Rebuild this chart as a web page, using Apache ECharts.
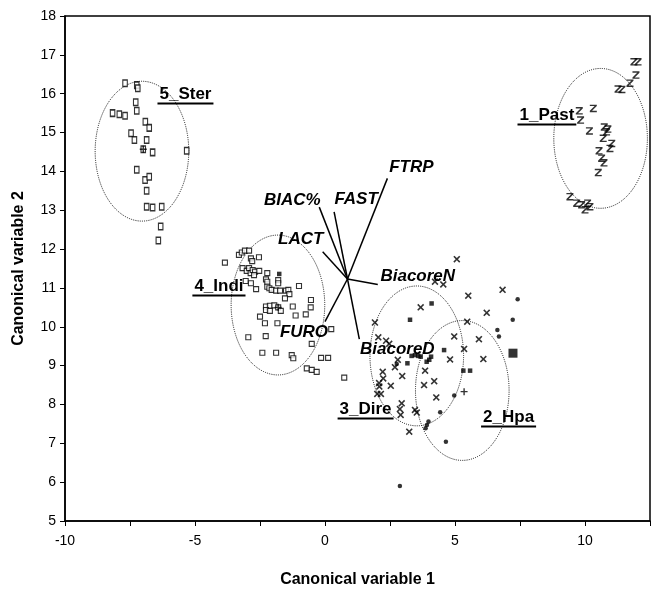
<!DOCTYPE html>
<html><head><meta charset="utf-8">
<script src="https://cdn.jsdelivr.net/npm/echarts@6/dist/echarts.min.js"></script>
<style>html,body{margin:0;padding:0;background:#fff}#c{width:652px;height:590px}</style>
</head><body><div id="c"></div>
<script>
// ---------------- data ----------------
const xAxisTitle = 'Canonical variable 1';
const yAxisTitle = 'Canonical variable 2';

const groupNames = ['1_Past', '2_Hpa', '3_Dire', '4_Indi', '5_Ster'];
const groupCentroids = [[10.60, 14.85], [5.28, 8.36], [3.53, 9.25], [-1.81, 10.56], [-7.04, 14.52]];
const groupRadius = 1.8;
const centroidMarks = [[-6.99, 14.57], [-1.80, 10.50], [5.35, 8.33]];

const pastPoints = [[11.88,16.82],[12.04,16.82],[11.96,16.48],[11.73,16.27],[11.27,16.12],[11.42,16.11],
  [9.78,15.56],[10.32,15.62],[9.83,15.32],[10.17,15.04],[10.74,15.14],[10.83,15.02],[10.88,15.09],
  [10.70,14.85],[11.03,14.72],[10.96,14.59],[10.54,14.53],[10.64,14.34],[10.73,14.22],[10.51,13.97],
  [9.42,13.35],[9.68,13.18],[9.87,13.14],[10.10,13.18],[10.00,13.01],[10.19,13.09]];

const sterPoints = [[-7.69,16.27],[-7.24,16.22],[-7.20,16.14],[-7.28,15.78],[-7.24,15.56],[-8.17,15.50],
  [-7.91,15.47],[-7.69,15.43],[-6.91,15.28],[-6.76,15.12],[-7.46,14.98],[-7.33,14.81],[-6.86,14.81],
  [-6.99,14.57],[-6.63,14.49],[-5.32,14.53],[-7.24,14.04],[-6.92,13.78],[-6.76,13.86],[-6.86,13.50],
  [-6.86,13.09],[-6.63,13.07],[-6.28,13.09],[-6.32,12.58],[-6.41,12.22]];

const indiPoints = [[-3.85,11.65],[-3.31,11.85],[-3.20,11.91],[-3.08,11.96],[-2.92,11.96],[-2.85,11.76],
  [-2.80,11.69],[-2.54,11.79],[-3.17,11.51],[-3.01,11.44],[-2.92,11.51],[-2.86,11.38],[-2.78,11.46],
  [-2.69,11.42],[-2.53,11.44],[-2.73,11.33],[-2.22,11.38],[-3.05,11.18],[-2.85,11.12],[-2.65,10.97],
  [-2.27,11.22],[-2.22,11.16],[-1.80,11.20],[-1.80,11.12],[-2.22,11.03],[-2.14,10.99],[-2.05,10.95],
  [-1.88,10.93],[-1.73,10.93],[-1.50,10.93],[-1.41,10.95],[-1.37,10.84],[-1.00,11.05],[-1.54,10.73],
  [-0.54,10.69],[-2.27,10.52],[-2.12,10.54],[-1.95,10.55],[-1.80,10.50],[-2.27,10.43],[-2.12,10.41],
  [-1.70,10.41],[-1.24,10.52],[-0.55,10.50],[-2.50,10.26],[-1.13,10.29],[-0.74,10.32],[-2.31,10.09],
  [-1.83,10.09],[0.24,9.94],[-2.95,9.73],[-2.28,9.76],[-0.51,9.56],[-2.41,9.33],[-1.88,9.33],
  [-1.28,9.27],[-1.22,9.19],[-0.15,9.20],[0.12,9.20],[-0.70,8.93],[-0.51,8.89],[-0.32,8.84],[0.74,8.69]];

const direPoints = [[5.07,11.74],[4.55,11.09],[4.23,11.16],[5.51,10.80],[6.83,10.95],[3.68,10.50],
  [6.22,10.36],[1.92,10.11],[5.47,10.13],[2.05,9.73],[2.35,9.64],[2.47,9.56],[4.97,9.75],[5.92,9.68],
  [5.35,9.43],[2.80,9.15],[2.69,8.96],[4.81,9.16],[6.09,9.17],[3.85,8.87],[2.22,8.84],[2.24,8.67],
  [2.08,8.55],[2.97,8.73],[2.53,8.48],[2.09,8.46],[2.01,8.27],[2.15,8.27],[4.20,8.60],[3.81,8.50],
  [4.28,8.18],[2.95,8.03],[2.88,7.88],[2.91,7.73],[3.46,7.86],[3.53,7.79],[3.24,7.30]];

const hpaPoints = [[7.41,10.71],[7.22,10.18],[6.63,9.92],[6.69,9.75],[4.97,8.23],[4.43,7.80],
  [3.98,7.56],[3.92,7.47],[3.87,7.39],[4.65,7.04],[2.76,9.04],[2.88,5.90]];

const filledSquarePoints = [[4.10,10.60],[3.27,10.18],[4.58,9.40],[3.33,9.25],[3.46,9.27],[3.59,9.25],
  [3.68,9.23],[3.17,9.06],[3.91,9.10],[4.01,9.15],[4.08,9.23],[5.32,8.87],[5.58,8.87],[-1.76,11.36]];

const bigSquarePoints = [[7.23, 9.32]];

const vectorNames = ['FTRP', 'FAST', 'BIAC%', 'LACT', 'BiacoreN', 'BiacoreD', 'FURO'];
const vectorOrigin = [0.865, 11.23];
const vectorEnds = [[2.40,13.82],[0.35,12.96],[-0.22,13.08],[-0.09,11.93],[2.03,11.09],[1.32,9.68],[0.00,10.13]];

// ---------------- styles ----------------
const FONT = '"Liberation Sans", Arial, Helvetica, sans-serif';
const vectorLabelOffsets = [[24,-11],[22,-12],[-27,-7],[-22,-12],[40,-8],[38,10],[-21,11]];
const groupLabelOffsets = [[-53.7,-23.3],[46.3,26.5],[-51.2,53],[-59,-19],[43.5,-57.3]];

const zPath = 'path://M0,0L10,0L10,2.2L3.2,9.8L10,9.8L10,12L0,12L0,9.8L6.8,2.2L0,2.2Z';
const xPath = 'path://M0,1.6L1.6,0L5,3.4L8.4,0L10,1.6L6.6,5L10,8.4L8.4,10L5,6.6L1.6,10L0,8.4L3.4,5Z';
const plusPath = 'path://M4,0L6,0L6,4L10,4L10,6L6,6L6,10L4,10L4,6L0,6L0,4L4,4Z';

const measureCtx = document.createElement('canvas').getContext('2d');
function textWidth(t, font) { measureCtx.font = font; return measureCtx.measureText(t).width; }
const groupFont = 'bold 17px ' + FONT;
const vectorFont = 'italic bold 17px ' + FONT;

const chart = echarts.init(document.getElementById('c'), null, {renderer: 'canvas'});

const option = {
  animation: false,
  backgroundColor: '#fff',
  grid: {left: 65, right: 2, top: 16, bottom: 69, containLabel: false, outerBoundsMode: 'none',
    show: true, borderColor: '#000', borderWidth: 1.5, backgroundColor: 'transparent'},
  xAxis: {
    type: 'value', min: -10, max: 12.5, interval: 2.5,
    name: xAxisTitle, nameLocation: 'middle', nameGap: 51,
    nameTextStyle: {fontFamily: FONT, fontWeight: 'bold', fontSize: 16, color: '#000'},
    axisLine: {show: true, onZero: false, lineStyle: {color: '#000', width: 1.5}},
    axisTick: {show: true, inside: false, length: 5, lineStyle: {color: '#000', width: 1}},
    axisLabel: {color: '#000', fontFamily: FONT, fontSize: 14, margin: 13,
      formatter: v => (Math.abs(v % 5) < 1e-9 ? String(v) : '')},
    splitLine: {show: false}
  },
  yAxis: {
    type: 'value', min: 5, max: 18, interval: 1,
    name: yAxisTitle, nameLocation: 'middle', nameGap: 38, nameRotate: 90,
    nameTextStyle: {fontFamily: FONT, fontWeight: 'bold', fontSize: 16, color: '#000'},
    axisLine: {show: true, onZero: false, lineStyle: {color: '#000', width: 1.5}},
    axisTick: {show: true, inside: false, length: 5, lineStyle: {color: '#000', width: 1}},
    axisLabel: {color: '#000', fontFamily: FONT, fontSize: 14, margin: 9},
    splitLine: {show: false}
  },
  series: [
    {
      type: 'custom', name: 'groups', coordinateSystem: 'cartesian2d', z: 3, silent: true,
      data: groupCentroids.map((c, i) => [c[0], c[1], i]),
      renderItem: function (params, api) {
        const i = api.value(2);
        const c = api.coord([api.value(0), api.value(1)]);
        const s = api.size([groupRadius, groupRadius], [api.value(0), api.value(1)]);
        const rx = s[0], ry = s[1];
        const d = 'M' + (c[0]-rx) + ' ' + c[1] + ' A' + rx + ' ' + ry + ' 0 1 0 ' + (c[0]+rx) + ' ' + c[1] +
                  ' A' + rx + ' ' + ry + ' 0 1 0 ' + (c[0]-rx) + ' ' + c[1] + ' Z';
        const name = groupNames[i];
        const off = groupLabelOffsets[i];
        const tx = c[0] + off[0], ty = c[1] + off[1];
        const w = textWidth(name, groupFont);
        return {
          type: 'group',
          children: [
            {type: 'path', shape: {pathData: d}, style: {fill: 'none', stroke: '#111', lineWidth: 1, lineDash: [1, 1.2]}},
            {type: 'text', z2: 50, style: {x: tx, y: ty, text: name, font: groupFont, fill: '#000', align: 'center', verticalAlign: 'middle'}},
            {type: 'line', z2: 50, shape: {x1: tx - w/2 - 2, y1: ty + 9.5, x2: tx + w/2 + 2, y2: ty + 9.5}, style: {stroke: '#000', lineWidth: 2}}
          ]
        };
      }
    },
    {type: 'scatter', name: 'Past', symbol: zPath, symbolSize: [7, 7.5], data: pastPoints, z: 4,
      itemStyle: {color: '#000'}},
    {type: 'scatter', name: 'Ster', symbol: 'rect', symbolSize: [4.5, 6.5], data: sterPoints, z: 4,
      itemStyle: {color: '#fff', borderColor: '#000', borderWidth: 1.3}},
    {type: 'scatter', name: 'Indi', symbol: 'rect', symbolSize: [5, 5], data: indiPoints, z: 4,
      itemStyle: {color: '#fff', borderColor: '#000', borderWidth: 1.1}},
    {type: 'scatter', name: 'Dire', symbol: xPath, symbolSize: 7, data: direPoints, z: 4,
      itemStyle: {color: '#000'}},
    {type: 'scatter', name: 'Hpa', symbol: 'circle', symbolSize: 4.5, data: hpaPoints, z: 4,
      itemStyle: {color: '#000'}},
    {type: 'scatter', name: 'filled', symbol: 'rect', symbolSize: 4.5, data: filledSquarePoints, z: 4,
      itemStyle: {color: '#000'}},
    {type: 'scatter', name: 'big', symbol: 'rect', symbolSize: 9, data: bigSquarePoints, z: 4,
      itemStyle: {color: '#000'}},
    {type: 'scatter', name: 'centroids', symbol: plusPath, symbolSize: 7, data: centroidMarks, z: 5,
      itemStyle: {color: '#000'}},
    {type: 'lines', name: 'vectors', coordinateSystem: 'cartesian2d', z: 6, silent: true,
      lineStyle: {color: '#000', width: 1.5, opacity: 1, curveness: 0},
      data: vectorEnds.map(e => ({coords: [vectorOrigin, e]}))},
    {
      type: 'custom', name: 'vectorLabels', coordinateSystem: 'cartesian2d', z: 7, silent: true,
      data: vectorEnds.map((e, i) => [e[0], e[1], i]),
      renderItem: function (params, api) {
        const i = api.value(2);
        const c = api.coord([api.value(0), api.value(1)]);
        const off = vectorLabelOffsets[i];
        return {type: 'text', style: {x: c[0] + off[0], y: c[1] + off[1], text: vectorNames[i],
          font: vectorFont, fill: '#000', align: 'center', verticalAlign: 'middle'}};
      }
    }
  ]
};
chart.setOption(option);
</script>
</body></html>
